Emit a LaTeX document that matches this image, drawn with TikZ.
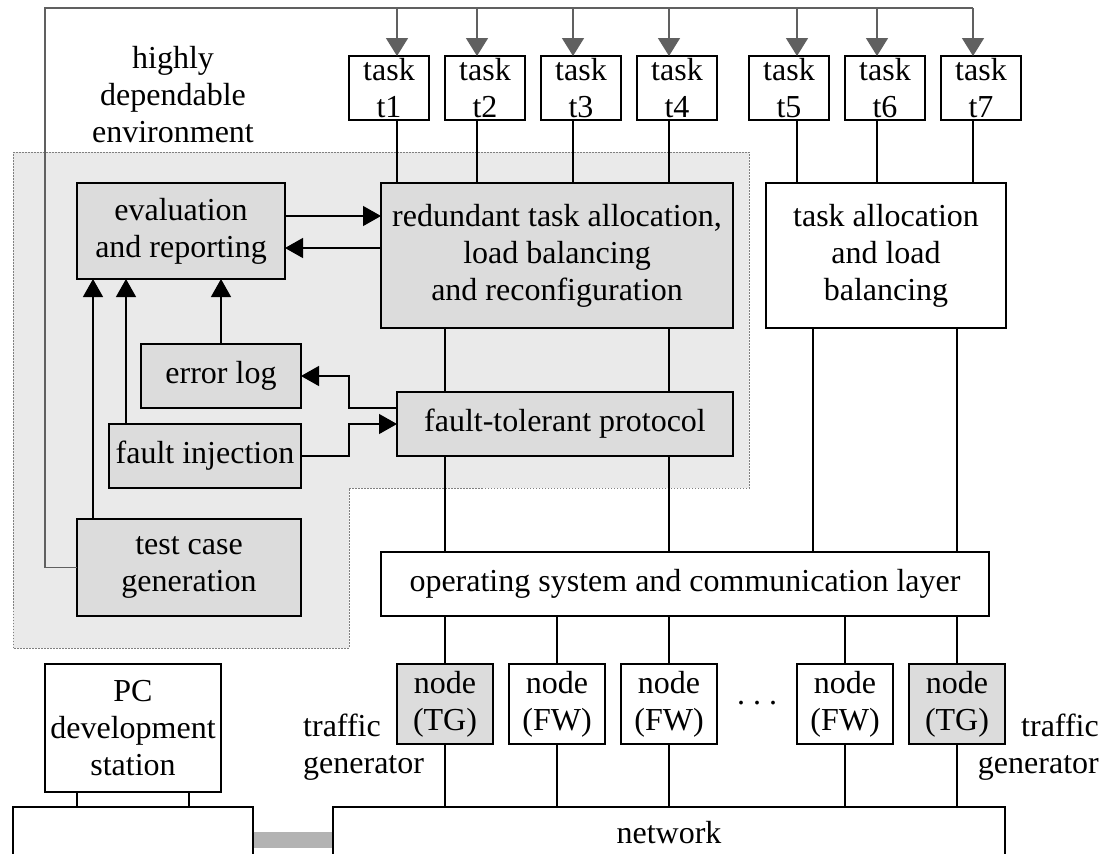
\documentclass[tikz,border=0pt]{standalone}
\usepackage{fontspec}
\setmainfont{Liberation Serif}
\usetikzlibrary{arrows.meta}
\definecolor{regionfill}{HTML}{EAEAEA}
\definecolor{boxfill}{HTML}{DCDCDC}
\definecolor{dotcol}{HTML}{808080}
\definecolor{garrcol}{HTML}{606060}
\definecolor{barcol}{HTML}{B3B3B3}
\begin{document}
\begin{tikzpicture}[x=1pt,y=-1pt,
  every node/.style={font=\fontsize{32}{37}\selectfont},
  blk/.style={draw=black, line width=1.3pt, inner sep=0pt, outer sep=0pt, align=center},
  wbox/.style={blk, fill=white},
  gbox/.style={blk, fill=boxfill},
  conn/.style={line width=1.3pt},
  arr/.style={conn, -{Triangle[length=18pt,width=20pt]}},
  gline/.style={line width=1.5pt, draw=garrcol},
  garr/.style={gline, -{Triangle[length=18pt,width=22pt]}},
  lbl/.style={inner sep=0pt, align=center}]
\useasboundingbox (0,0) rectangle (1104,854);
\clip (0,0) rectangle (1104,854);
\fill[white] (0,0) rectangle (1104,854);

% dependable environment region
\draw[dotcol, fill=regionfill, line width=1pt, dash pattern=on 1.5pt off 1.5pt]
  (13,152) -- (749,152) -- (749,488) -- (349,488) -- (349,648) -- (13,648) -- cycle;

% task boxes
\node[wbox, minimum width=80pt, minimum height=64pt] (t1) at (389,88) {task\\t1};
\node[wbox, minimum width=80pt, minimum height=64pt] (t2) at (485,88) {task\\t2};
\node[wbox, minimum width=80pt, minimum height=64pt] (t3) at (581,88) {task\\t3};
\node[wbox, minimum width=80pt, minimum height=64pt] (t4) at (677,88) {task\\t4};
\node[wbox, minimum width=80pt, minimum height=64pt] (t5) at (789,88) {task\\t5};
\node[wbox, minimum width=80pt, minimum height=64pt] (t6) at (885,88) {task\\t6};
\node[wbox, minimum width=80pt, minimum height=64pt] (t7) at (981,88) {task\\t7};

% main boxes
\node[gbox, minimum width=352pt, minimum height=145pt] (red) at (557,255.5)
  {redundant task allocation,\\load balancing\\and reconfiguration};
\node[wbox, minimum width=240pt, minimum height=145pt] (ta) at (886,255.5)
  {task allocation\\and load\\balancing};
\node[gbox, minimum width=208pt, minimum height=96pt] (ev) at (181,231)
  {evaluation\\and reporting};
\node[gbox, minimum width=160pt, minimum height=64pt] (err) at (221,376) {error log};
\node[gbox, minimum width=192pt, minimum height=64pt] (fi) at (205,456) {fault injection};
\node[gbox, minimum width=224pt, minimum height=97pt] (tc) at (189,567.5) {test case\\generation};
\node[gbox, minimum width=336pt, minimum height=64pt] (ft) at (565,424) {fault-tolerant protocol};
\node[wbox, minimum width=608pt, minimum height=64pt] (os) at (685,584)
  {operating system and communication layer};

% hardware nodes
\node[gbox, minimum width=96pt, minimum height=80pt] (n1) at (445,704) {node\\(TG)};
\node[wbox, minimum width=96pt, minimum height=80pt] (n2) at (557,704) {node\\(FW)};
\node[wbox, minimum width=96pt, minimum height=80pt] (n3) at (669,704) {node\\(FW)};
\node[wbox, minimum width=96pt, minimum height=80pt] (n4) at (845,704) {node\\(FW)};
\node[gbox, minimum width=96pt, minimum height=80pt] (n5) at (957,704) {node\\(TG)};
\node[lbl] (dots) at (757,703) {.\ .\ .};

\node[wbox, minimum width=176pt, minimum height=128pt] (pc) at (133,728)
  {PC\\development\\station};
\node[wbox, minimum width=240pt, minimum height=52pt] (lbox) at (133,833) {};
\node[wbox, minimum width=672pt, minimum height=52pt] (net) at (669,833) {network};

% labels
\node[lbl] (hde) at (173,95) {highly\\dependable\\environment};
\node[lbl, align=left, anchor=west] (tgl) at (303,747) {traffic\\generator};
\node[lbl, align=right, anchor=east] (tgr) at (1099,747) {traffic\\generator};

% coordinates
\coordinate (topL) at (45,8);
\coordinate (top1) at (397,8);
\coordinate (top2) at (477,8);
\coordinate (top3) at (573,8);
\coordinate (top4) at (669,8);
\coordinate (top5) at (797,8);
\coordinate (top6) at (877,8);
\coordinate (top7) at (973,8);
\coordinate (xA) at (445,0);
\coordinate (xC) at (669,0);
\coordinate (xD) at (813,0);
\coordinate (xF) at (957,0);

% gray control lines
\draw[gline] (tc.west) -| (topL) -- (top7);
\foreach \i in {1,...,7} {
  \draw[garr] (top\i) -- (t\i.north -| top\i);
}

% task to allocation
\foreach \i in {1,2,3,4} {
  \draw[conn] (t\i.south -| top\i) -- (red.north -| top\i);
}
\foreach \i in {5,6,7} {
  \draw[conn] (t\i.south -| top\i) -- (ta.north -| top\i);
}

% vertical stack
\draw[conn] (red.south -| xA) -- (ft.north -| xA);
\draw[conn] (red.south -| xC) -- (ft.north -| xC);
\draw[conn] (ft.south -| xA) -- (os.north -| xA);
\draw[conn] (ft.south -| xC) -- (os.north -| xC);
\draw[conn] (ta.south -| xD) -- (os.north -| xD);
\draw[conn] (ta.south -| xF) -- (os.north -| xF);
\foreach \i in {1,...,5} {
  \draw[conn] (n\i.north) -- (n\i.north |- os.south);
  \draw[conn] (n\i.south) -- (n\i.south |- net.north);
}

% PC links
\coordinate (pcL) at ([xshift=32pt]pc.south west);
\coordinate (pcR) at ([xshift=-32pt]pc.south east);
\draw[conn] (pcL) -- (pcL |- lbox.north);
\draw[conn] (pcR) -- (pcR |- lbox.north);
\coordinate (b1) at ([yshift=-7pt]lbox.east);
\draw[line width=16pt, barcol, shorten <=0.65pt, shorten >=0.65pt] (b1) -- (b1 -| net.west);

% evaluation arrows
\coordinate (e1) at ([yshift=15pt]ev.east);
\coordinate (e2) at ([yshift=-17pt]ev.east);
\draw[arr] (e1) -- (e1 -| red.west);
\draw[arr] (e2 -| red.west) -- (e2);
\coordinate (tcA) at ([xshift=16pt]tc.north west);
\coordinate (fiA) at ([xshift=17pt]fi.north west);
\draw[arr] (tcA) -- (tcA |- ev.south);
\draw[arr] (fiA) -- (fiA |- ev.south);
\draw[arr] (err.north) -- (err.north |- ev.south);

% protocol arrows
\coordinate (f1) at ([yshift=16pt]ft.west);
\draw[arr] (f1) -- ++(-48,0) |- (err.east);
\draw[arr] (fi.east) -- ++(48,0) |- (ft.west);
\end{tikzpicture}
\end{document}
